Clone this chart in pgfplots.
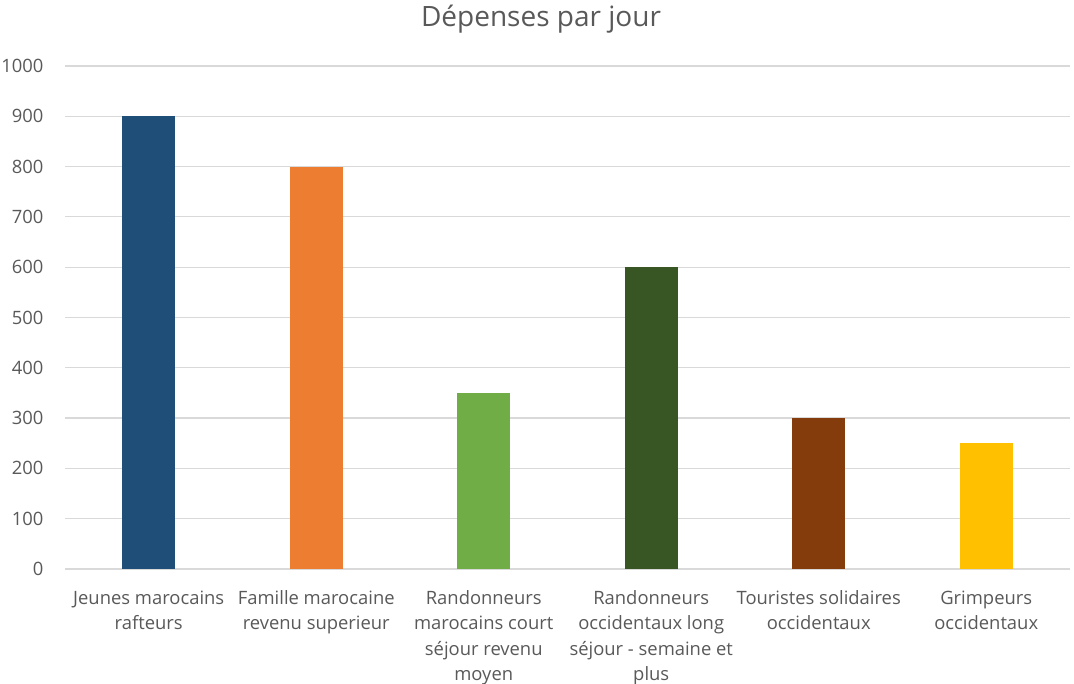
\documentclass[border=0pt]{standalone}
\usepackage{fontspec}
\setmainfont{Open Sans}
\usepackage{pgfplots}
\pgfplotsset{compat=1.18}
\definecolor{cBlue}{HTML}{1F4E79}
\definecolor{cOrange}{HTML}{ED7D31}
\definecolor{cGreen}{HTML}{70AD47}
\definecolor{cDGreen}{HTML}{375623}
\definecolor{cBrown}{HTML}{843C0C}
\definecolor{cYellow}{HTML}{FFC000}
\definecolor{txt}{HTML}{595959}
\definecolor{gridc}{HTML}{D9D9D9}
\begin{document}
\begin{tikzpicture}
\useasboundingbox (0,0) rectangle (1074pt,684pt);
\begin{axis}[
  at={(65pt,115pt)}, anchor=south west,
  scale only axis, width=1005pt, height=503pt,
  xmin=-0.5, xmax=5.5, ymin=0, ymax=1000,
  ytick={0,100,...,1000},
  xtick={0,1,2,3,4,5},
  xticklabels={{Jeunes marocains\\rafteurs},{Famille marocaine\\revenu superieur},{Randonneurs\\marocains court\\séjour revenu\\moyen},{Randonneurs\\occidentaux long\\séjour - semaine et\\plus},{Touristes solidaires\\occidentaux},{Grimpeurs\\occidentaux}},
  xticklabel style={align=center, font=\fontsize{18.4}{25.3}\selectfont, text=txt, anchor=north, yshift=-18pt},
  yticklabel style={font=\fontsize{18.4}{24}\selectfont, text=txt, anchor=east, xshift=-18pt},
  /pgf/number format/assume math mode=true,
  /pgf/number format/1000 sep={},
  ymajorgrids, major grid style={gridc, line width=1.2pt},
  axis x line*=bottom, axis y line*=left,
  y axis line style={draw=none},
  x axis line style={gridc, line width=1.2pt, -},
  major tick length=0pt,
  ybar, bar width=53pt,
]
\addplot[fill=cBlue, draw=none, bar shift=0pt] coordinates {(0,900)};
\addplot[fill=cOrange, draw=none, bar shift=0pt] coordinates {(1,800)};
\addplot[fill=cGreen, draw=none, bar shift=0pt] coordinates {(2,350)};
\addplot[fill=cDGreen, draw=none, bar shift=0pt] coordinates {(3,600)};
\addplot[fill=cBrown, draw=none, bar shift=0pt] coordinates {(4,300)};
\addplot[fill=cYellow, draw=none, bar shift=0pt] coordinates {(5,250)};
\end{axis}
\node[font=\fontsize{28}{34}\selectfont, text=txt] at (541pt,665pt) {Dépenses par jour};
\end{tikzpicture}
\end{document}
